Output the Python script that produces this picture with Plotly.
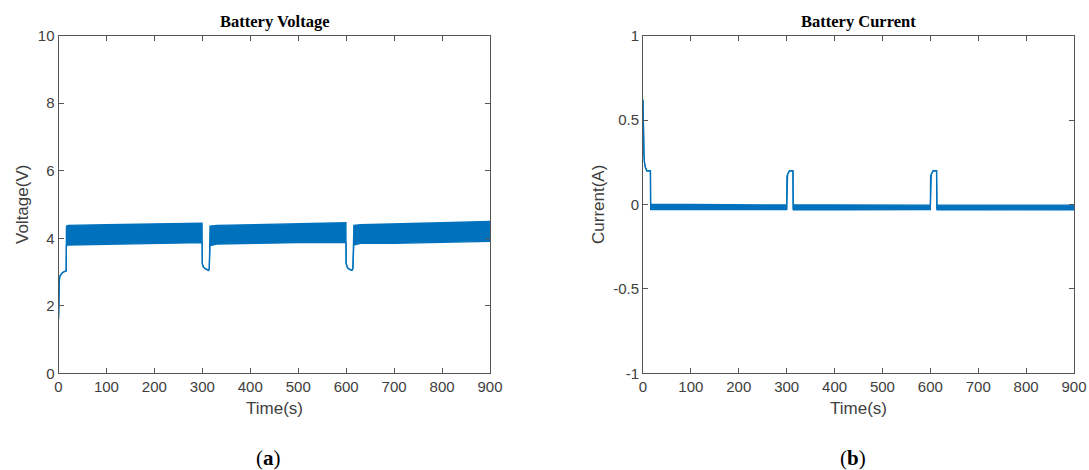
import plotly.graph_objects as go

# Battery voltage: envelope of the fast switching ripple (lower == upper where it is a single trace)
volt_t = [0, 0.5, 1, 2, 3, 5, 8, 12, 15.5, 16, 16.5, 20, 100, 200, 299.5,
          300, 302, 306, 310, 313, 314.5, 315.5, 316, 330, 400, 500, 599.5,
          600, 603, 608, 612, 614, 615, 616, 630, 700, 800, 900]
volt_upper = [1.6, 2.3, 2.6, 2.8, 2.88, 2.93, 2.98, 3.01, 3.03, 3.03, 4.36, 4.38, 4.40, 4.42, 4.45,
              3.25, 3.15, 3.1, 3.07, 3.05, 3.1, 3.6, 4.36, 4.38, 4.40, 4.43, 4.46,
              3.25, 3.12, 3.07, 3.05, 3.1, 3.6, 4.38, 4.40, 4.42, 4.46, 4.50]
volt_lower = [1.6, 2.3, 2.6, 2.8, 2.88, 2.93, 2.98, 3.01, 3.03, 3.03, 3.78, 3.80, 3.82, 3.85, 3.87,
              3.25, 3.15, 3.1, 3.07, 3.05, 3.1, 3.6, 3.78, 3.83, 3.85, 3.87, 3.88,
              3.25, 3.12, 3.07, 3.05, 3.1, 3.6, 3.80, 3.85, 3.85, 3.88, 3.91]

# Battery current envelope
curr_t = [0, 0.3, 1, 2, 3, 5, 8, 15.5, 16, 16.5, 100, 200, 299.5,
          300, 300.5, 302, 304, 306, 313, 313.5, 314, 400, 500, 599.5,
          600, 600.5, 602, 604, 606, 613, 613.5, 614, 700, 800, 900]
curr_upper = [0.62, 0.45, 0.37, 0.3, 0.25, 0.22, 0.2, 0.2, -0.03, 0.0, 0.0, -0.002, -0.003,
              -0.03, 0.17, 0.18, 0.19, 0.2, 0.2, -0.03, -0.003, -0.003, -0.004, -0.004,
              -0.03, 0.17, 0.18, 0.19, 0.2, 0.2, -0.03, -0.004, -0.004, -0.004, -0.004]
curr_lower = [0.62, 0.45, 0.37, 0.3, 0.25, 0.22, 0.2, 0.2, -0.03, -0.03, -0.03, -0.03, -0.031,
              -0.03, 0.17, 0.18, 0.19, 0.2, 0.2, -0.03, -0.031, -0.031, -0.031, -0.031,
              -0.03, 0.17, 0.18, 0.19, 0.2, 0.2, -0.03, -0.031, -0.031, -0.032, -0.032]

x_ticks = [0, 100, 200, 300, 400, 500, 600, 700, 800, 900]
v_ticks = [0, 2, 4, 6, 8, 10]
c_ticks = [-1, -0.5, 0, 0.5, 1]
c_tick_text = ["-1", "-0.5", "0", "0.5", "1"]

BLUE = "#0072BD"
AX = "#555555"
TXT = "#404040"
SANS = "Liberation Sans, Arial, sans-serif"
SERIF = "Liberation Serif, DejaVu Serif, serif"

W, H = 1089, 470

fig = go.Figure()

def add_band(t, up, lo, xa, ya):
    fig.add_trace(go.Scatter(x=t, y=up, mode="lines", line=dict(color=BLUE, width=1.3),
                             xaxis=xa, yaxis=ya, showlegend=False, hoverinfo="skip"))
    fig.add_trace(go.Scatter(x=t, y=lo, mode="lines", line=dict(color=BLUE, width=1.3),
                             fill="tonexty", fillcolor=BLUE,
                             xaxis=xa, yaxis=ya, showlegend=False, hoverinfo="skip"))

add_band(volt_t, volt_upper, volt_lower, "x", "y")
add_band(curr_t, curr_upper, curr_lower, "x2", "y2")

axis_common = dict(showline=True, linecolor=AX, linewidth=1, mirror="allticks",
                   ticks="inside", ticklen=5, tickcolor=AX, showgrid=False, zeroline=False,
                   automargin=False, tickfont=dict(family=SANS, size=15, color=TXT))

ydom = [(H - 373.3) / H, (H - 35.7) / H]
left_dom = [58.5 / W, 490 / W]
right_dom = [643 / W, 1074 / W]

fig.update_layout(
    width=W, height=H, margin=dict(l=0, r=0, t=0, b=0, autoexpand=False),
    paper_bgcolor="white", plot_bgcolor="white",
    xaxis=dict(domain=left_dom, range=[0, 900], tickvals=x_ticks, anchor="y", **axis_common),
    yaxis=dict(domain=ydom, range=[0, 10], tickvals=v_ticks, anchor="x", **axis_common),
    xaxis2=dict(domain=right_dom, range=[0, 900], tickvals=x_ticks, anchor="y2", **axis_common),
    yaxis2=dict(domain=ydom, range=[-1, 1], tickvals=c_ticks, ticktext=c_tick_text,
                anchor="x2", **axis_common),
)

def note(text, px, py, font, angle=0):
    fig.add_annotation(text=text, x=px / W, y=(H - py) / H, xref="paper", yref="paper",
                       xanchor="center", yanchor="middle", showarrow=False,
                       textangle=angle, font=font)

label_font = dict(family=SANS, size=17, color=TXT)
title_font = dict(family=SERIF, size=16.5, color="black")
panel_font = dict(family=SERIF, size=21, color="black")

# panel titles
note("<b>Battery Voltage</b>", 275, 22, title_font)
note("<b>Battery Current</b>", 858, 22, title_font)

# axis titles
note("Time(s)", 274, 408, label_font)
note("Time(s)", 858, 408, label_font)
note("Voltage(V)", 22, 205, label_font, -90)
note("Current(A)", 598, 205, label_font, -90)

# panel labels
note("(<b>a</b>)", 268, 458, panel_font)
note("(<b>b</b>)", 853, 458, panel_font)

fig.write_html("out.html")
